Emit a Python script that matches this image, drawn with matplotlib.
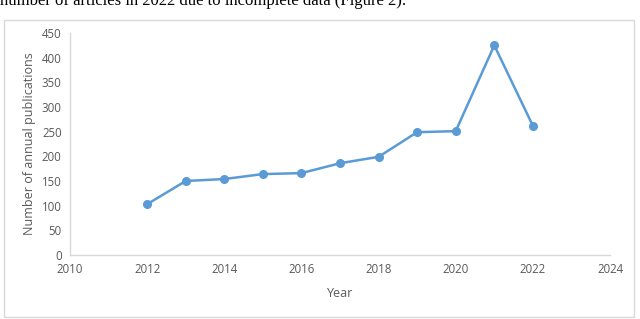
import matplotlib.pyplot as plt
from matplotlib.patches import Rectangle

years = [2012, 2013, 2014, 2015, 2016, 2017, 2018, 2019, 2020, 2021, 2022]
pubs = [103, 150, 154, 164, 166, 186, 199, 249, 251, 425, 262]
x_ticks = [2010, 2012, 2014, 2016, 2018, 2020, 2022, 2024]
y_ticks = [0, 50, 100, 150, 200, 250, 300, 350, 400, 450]

plt.rcParams['font.family'] = ['Open Sans', 'DejaVu Sans']

fig = plt.figure(figsize=(6.4, 3.19), dpi=100)

# caption text from the page, cut off at the top
fig.text(0.0, 1 - 5 / 319, "number of articles in 2022 due to incomplete data (Figure 2).",
         family='Liberation Serif', fontsize=12, color='black', va='baseline', ha='left')

# chart frame
fig.patches.append(Rectangle((4 / 640, 2 / 319), 630 / 640, 297 / 319, transform=fig.transFigure,
                             fill=False, edgecolor='#D9D9D9', linewidth=1))

ax = fig.add_axes([70 / 640, 1 - 255 / 319, 540 / 640, 222 / 319])
ax.plot(years, pubs, color='#5B9BD5', linewidth=1.8, marker='o', markersize=5.5)

ax.set_xlim(2010, 2024)
ax.set_ylim(0, 450)
ax.set_xticks(x_ticks)
ax.set_yticks(y_ticks)
ax.tick_params(length=0, labelsize=8.3, colors='#595959', pad=6)
for s in ['top', 'right']:
    ax.spines[s].set_visible(False)
for s in ['left', 'bottom']:
    ax.spines[s].set_color('#D9D9D9')
    ax.spines[s].set_linewidth(1)

ax.set_xlabel('Year', fontsize=9, color='#595959', labelpad=8)
ax.set_ylabel('Number of annual publications', fontsize=9, color='#595959', labelpad=4)

fig.savefig('out.png', dpi=100)
